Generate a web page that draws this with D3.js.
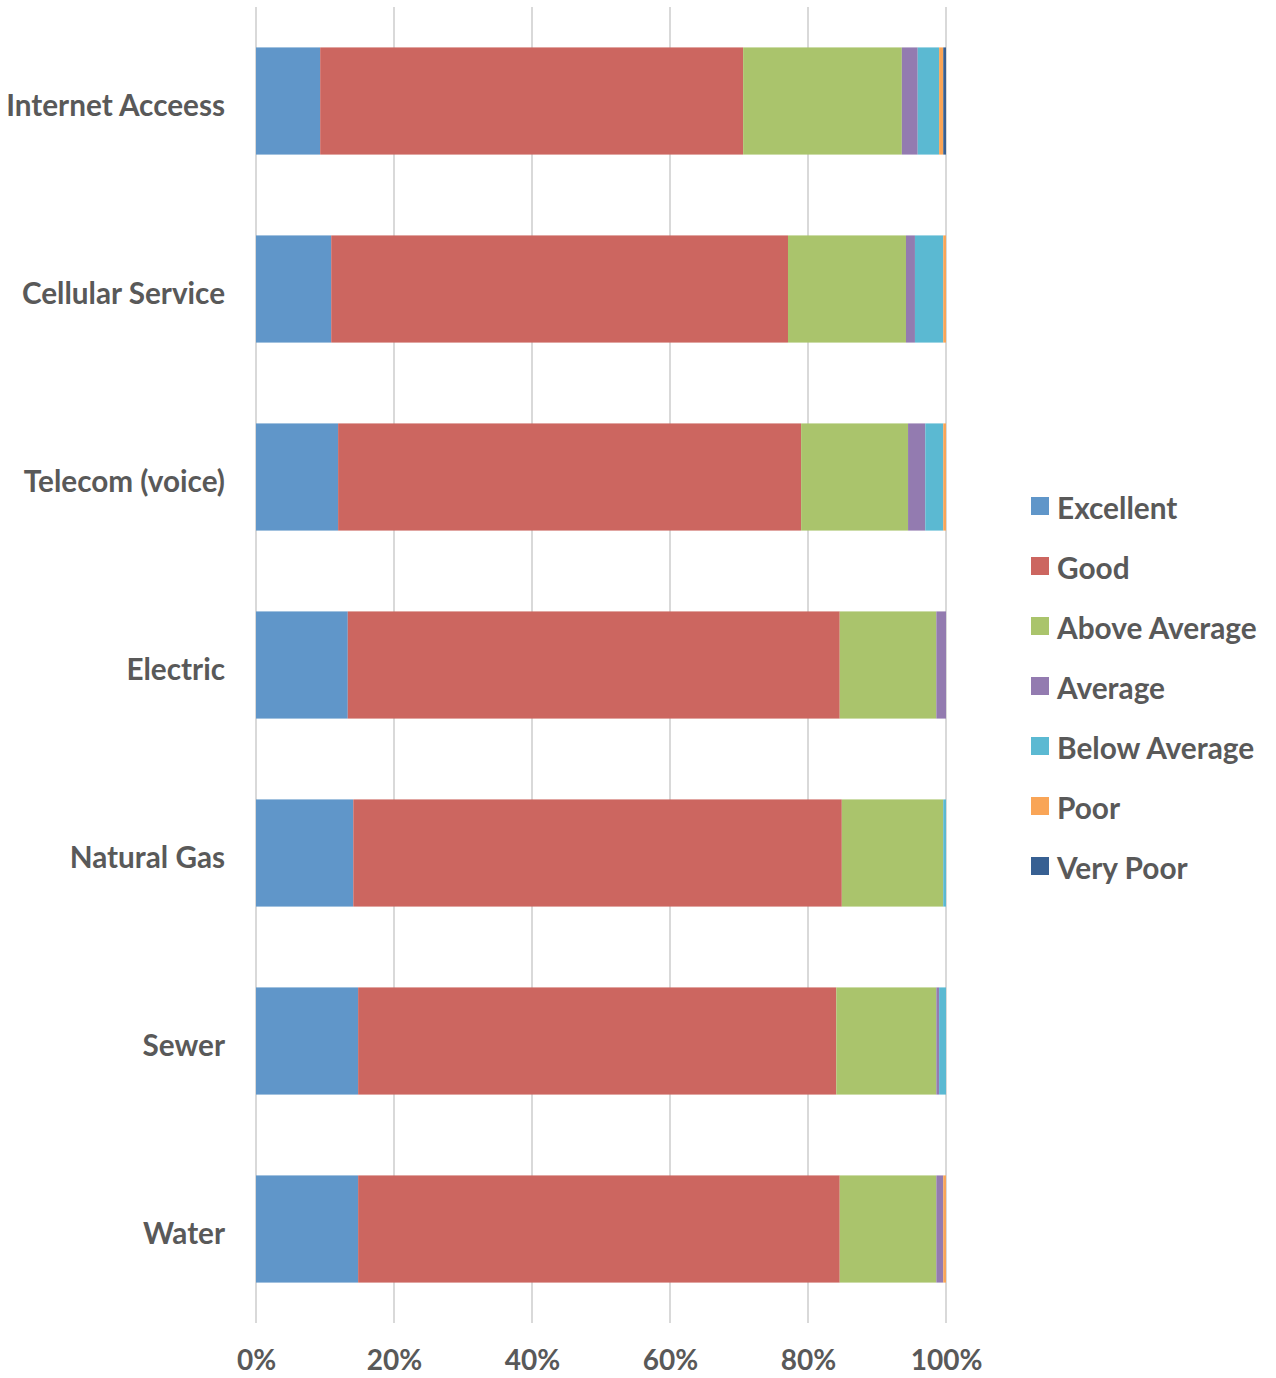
<!DOCTYPE html>
<html>
<head>
<meta charset="utf-8">
<script src="https://cdn.jsdelivr.net/npm/d3@7"></script>
<style>
  html, body { margin: 0; padding: 0; background: #fff; }
  svg text { font-family: Lato, "Open Sans", sans-serif; font-weight: 700; fill: #595959; }
</style>
</head>
<body>
<svg id="chart" width="1276" height="1378"></svg>
<script>
// Utility categories, top to bottom
const categories = ["Internet Acceess", "Cellular Service", "Telecom (voice)", "Electric", "Natural Gas", "Sewer", "Water"];

// Rating series (percent of responses per category)
const ratings = ["Excellent", "Good", "Above Average", "Average", "Below Average", "Poor", "Very Poor"];
const excellent    = [9.3, 10.9, 11.9, 13.3, 14.1, 14.8, 14.8];
const good         = [61.3, 66.2, 67.1, 71.3, 70.8, 69.3, 69.8];
const aboveAverage = [23.0, 17.1, 15.5, 14.0, 14.7, 14.5, 14.0];
const average      = [2.3, 1.3, 2.5, 1.4, 0.0, 0.4, 1.0];
const belowAverage = [3.1, 4.1, 2.6, 0.0, 0.4, 1.0, 0.0];
const poor         = [0.6, 0.4, 0.4, 0.0, 0.0, 0.0, 0.4];
const veryPoor     = [0.4, 0.0, 0.0, 0.0, 0.0, 0.0, 0.0];

const tickValues = [0, 0.2, 0.4, 0.6, 0.8, 1.0];
const colors = ["#6096c9", "#cc6660", "#aac46c", "#937bb0", "#5bb9d2", "#f9a557", "#376092"];

const seriesValues = [excellent, good, aboveAverage, average, belowAverage, poor, veryPoor];
const rows = categories.map((c, i) => {
  const r = { category: c };
  ratings.forEach((k, j) => { r[k] = seriesValues[j][i]; });
  return r;
});
// normalise each row to a 100% stack
const stacked = d3.stack().keys(ratings).offset(d3.stackOffsetExpand)(rows);

const svg = d3.select("#chart");
const x = d3.scaleLinear().domain([0, 1]).range([256, 946]);
const y = d3.scaleBand().domain(categories).range([7, 1323]).paddingInner(0.43).paddingOuter(0.215);
const color = d3.scaleOrdinal().domain(ratings).range(colors);

// vertical gridlines
svg.append("g")
  .selectAll("line")
  .data(tickValues)
  .join("line")
  .attr("x1", d => x(d)).attr("x2", d => x(d))
  .attr("y1", 7).attr("y2", 1323)
  .attr("stroke", "#d9d9d9")
  .attr("stroke-width", 2);

// stacked bars
svg.append("g")
  .selectAll("g")
  .data(stacked)
  .join("g")
  .attr("fill", d => color(d.key))
  .selectAll("rect")
  .data(d => d)
  .join("rect")
  .attr("x", d => x(d[0]))
  .attr("width", d => Math.max(0, x(d[1]) - x(d[0])))
  .attr("y", d => y(d.data.category))
  .attr("height", y.bandwidth());

// category axis labels
const yAxis = d3.axisLeft(y).tickSize(0).tickPadding(0);
const yg = svg.append("g").attr("transform", "translate(225,0)").call(yAxis);
yg.select(".domain").remove();
yg.selectAll("text").style("font-size", "29.7px").attr("fill", "#595959").attr("dy", "0.52em");

// percentage axis labels
const xAxis = d3.axisBottom(x).tickValues(tickValues).tickFormat(d3.format(".0%")).tickSize(0).tickPadding(0);
const xg = svg.append("g").attr("transform", "translate(0,1370)").call(xAxis);
xg.select(".domain").remove();
xg.selectAll("text").style("font-size", "28px").attr("fill", "#595959").attr("dy", "0");

// legend
const legend = svg.append("g").attr("transform", "translate(1031,509)");
const item = legend.selectAll("g").data(ratings).join("g")
  .attr("transform", (d, i) => `translate(0,${i * 60})`);
item.append("rect").attr("x", 0).attr("y", -12).attr("width", 18).attr("height", 18).attr("fill", d => color(d));
item.append("text").attr("x", 26).attr("dy", "0.35em").style("font-size", "29.8px").text(d => d);
</script>
</body>
</html>
